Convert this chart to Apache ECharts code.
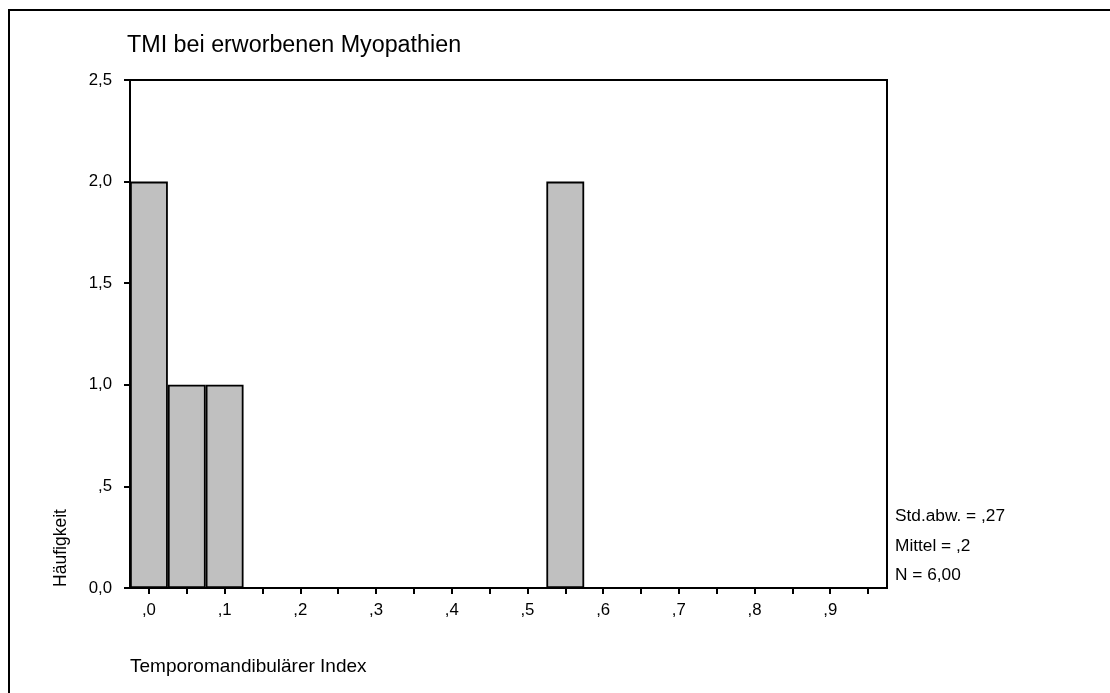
<!DOCTYPE html>
<html>
<head>
<meta charset="utf-8">
<style>
html,body{margin:0;padding:0;background:#fff;}
#chart{width:1110px;height:693px;}
</style>
<script src="https://cdn.jsdelivr.net/npm/echarts@6/dist/echarts.min.js"></script>
</head>
<body>
<div id="chart"></div>
<script>
// Bin centres of the histogram (Temporomandibulärer Index), bin width 0.05
const binCenters = [0.00,0.05,0.10,0.15,0.20,0.25,0.30,0.35,0.40,0.45,0.50,0.55,0.60,0.65,0.70,0.75,0.80,0.85,0.90,0.95];
// Frequencies (Häufigkeit) per bin
const counts = [2,1,1,0,0,0,0,0,0,0,0,2,0,0,0,0,0,0,0,0];
const yTicks = [0,0.5,1,1.5,2,2.5];
const titleText = 'TMI bei erworbenen Myopathien';
const xTitle = 'Temporomandibulärer Index';
const yTitle = 'Häufigkeit';
const statsLines = ['Std.abw. = ,27','Mittel = ,2','N = 6,00'];

const FONT = '"Liberation Sans", Arial, Helvetica, sans-serif';

function deNum(v, digits){
  let s = Number(v).toFixed(digits).replace('.', ',');
  if (v > 0 && v < 1) s = s.replace(/^0/, '');
  return s;
}

const chart = echarts.init(document.getElementById('chart'), null, {renderer:'canvas'});
chart.setOption({
  animation:false,
  backgroundColor:'#fff',
  title:{
    text:titleText, left:127, top:34, padding:0,
    textStyle:{fontFamily:FONT, fontSize:23.3, fontWeight:'normal', color:'#000'}
  },
  grid:{left:130, right:223, top:80, bottom:105, show:true, borderColor:'#000', borderWidth:2, backgroundColor:'transparent'},
  xAxis:{
    type:'category',
    data:binCenters.map(String),
    boundaryGap:true,
    axisLine:{show:true, lineStyle:{color:'#000', width:2}},
    axisTick:{show:true, alignWithLabel:true, interval:0, length:6, lineStyle:{color:'#000', width:2}},
    axisLabel:{
      interval:function(i){return i % 2 === 0;},
      margin:14,
      fontFamily:FONT, fontSize:16.8, color:'#000',
      formatter:function(v){ const n = Number(v); return ',' + Math.round(n*10); }
    },
    splitLine:{show:false}
  },
  yAxis:{
    type:'value', min:yTicks[0], max:yTicks[yTicks.length-1], interval:0.5,
    axisLine:{show:true, lineStyle:{color:'#000', width:2}},
    axisTick:{show:true, length:6, lineStyle:{color:'#000', width:2}},
    axisLabel:{margin:18, fontFamily:FONT, fontSize:16.8, color:'#000',
      formatter:function(v){ return deNum(v,1); }},
    splitLine:{show:false}
  },
  series:[{
    type:'bar',
    data:counts.map(c => c === 0 ? '-' : c),
    barCategoryGap:'0%',
    itemStyle:{color:'#c0c0c0', borderColor:'#000', borderWidth:1.8},
    silent:true
  }],
  graphic:[
    {type:'rect', shape:{x:9, y:10, width:1200, height:800}, style:{fill:'none', stroke:'#000', lineWidth:2}, silent:true},
    {type:'text', x:61, y:548, rotation:Math.PI/2,
      style:{text:yTitle, font:'17.5px '+FONT, fill:'#000', textAlign:'center', textVerticalAlign:'middle'}},
    {type:'text', x:130, y:667,
      style:{text:xTitle, font:'19px '+FONT, fill:'#000', textAlign:'left', textVerticalAlign:'middle'}},
    {type:'text', x:895, y:516, style:{text:statsLines[0], font:'17.3px '+FONT, fill:'#000', textVerticalAlign:'middle'}},
    {type:'text', x:895, y:546, style:{text:statsLines[1], font:'17.3px '+FONT, fill:'#000', textVerticalAlign:'middle'}},
    {type:'text', x:895, y:575, style:{text:statsLines[2], font:'17.3px '+FONT, fill:'#000', textVerticalAlign:'middle'}}
  ]
});
</script>
</body>
</html>
